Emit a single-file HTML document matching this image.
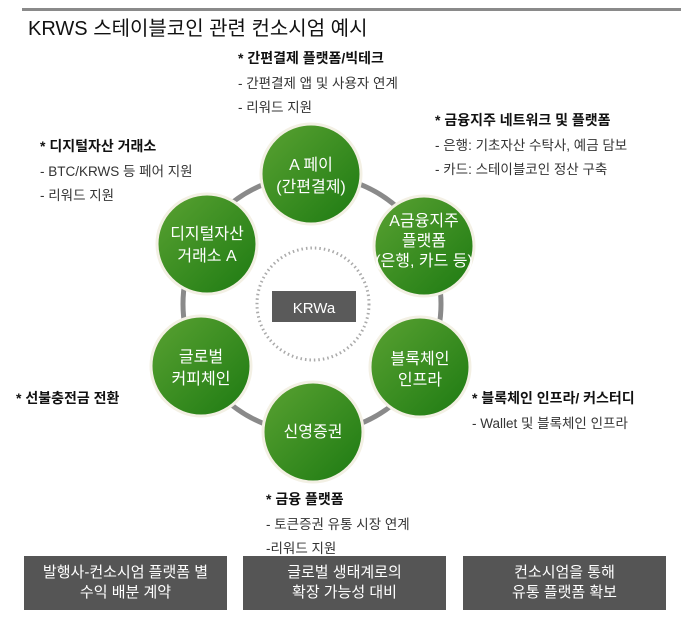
<!DOCTYPE html>
<html><head><meta charset="utf-8"><style>
body{margin:0;width:681px;height:620px;background:#fff;overflow:hidden;position:relative;font-family:"Liberation Sans","Noto Sans CJK KR",sans-serif;}
.t{position:absolute;white-space:nowrap;color:#222;}
.h{font-weight:bold;font-size:14px;color:#111;}
.s{font-size:13.5px;color:#333;}
.box{position:absolute;top:556px;height:54px;width:203px;background:#555;color:#fff;font-size:15px;text-align:center;line-height:20px;display:flex;align-items:center;justify-content:center;}
</style></head><body>
<div style="position:absolute;left:22px;top:8px;width:659px;height:3px;background:#8a8a8a"></div>
<div class="t" style="left:28px;top:12px;font-size:20px;color:#111;">KRWS 스테이블코인 관련 컨소시엄 예시</div>
<svg width="681" height="620" style="position:absolute;left:0;top:0">
<defs><linearGradient id="g" x1="0" y1="0" x2="1" y2="1"><stop offset="0" stop-color="#5aa232"/><stop offset="1" stop-color="#1d7a12"/></linearGradient></defs>
<circle cx="312" cy="304" r="129" fill="none" stroke="#8a8a8a" stroke-width="5"/>
<circle cx="313" cy="304" r="56" fill="none" stroke="#aaa" stroke-width="3" stroke-dasharray="1.5 3"/>
<rect x="272" y="291" width="84" height="31" fill="#5a5a5a"/>
<text x="314" y="313" font-size="15" fill="#fff" text-anchor="middle" font-family="Liberation Sans">KRWa</text>
<g stroke="#f3f0e4" stroke-width="3" fill="url(#g)">
<circle cx="311" cy="174" r="50"/><circle cx="424" cy="246" r="50"/><circle cx="420" cy="367" r="50"/>
<circle cx="313" cy="432" r="50"/><circle cx="201" cy="366" r="50"/><circle cx="207" cy="244" r="50"/>
</g>
<g fill="#fff" font-size="16" text-anchor="middle" font-family="Liberation Sans, Noto Sans CJK KR, sans-serif">
<text x="311" y="170">A 페이</text><text x="311" y="192">(간편결제)</text>
<text x="424" y="226">A금융지주</text><text x="424" y="246">플랫폼</text><text x="424" y="266">(은행, 카드 등)</text>
<text x="420" y="364">블록체인</text><text x="420" y="385">인프라</text>
<text x="313" y="437">신영증권</text>
<text x="201" y="362">글로벌</text><text x="201" y="384">커피체인</text>
<text x="207" y="239">디지털자산</text><text x="207" y="261">거래소 A</text>
</g>
</svg>
<div class="t h" style="left:238px;top:48px">* 간편결제 플랫폼/빅테크</div>
<div class="t s" style="left:238px;top:72px">- 간편결제 앱 및 사용자 연계</div>
<div class="t s" style="left:238px;top:96px">- 리워드 지원</div>
<div class="t h" style="left:435px;top:110px">* 금융지주 네트워크 및 플랫폼</div>
<div class="t s" style="left:435px;top:134px">- 은행: 기초자산 수탁사, 예금 담보</div>
<div class="t s" style="left:435px;top:158px">- 카드: 스테이블코인 정산 구축</div>
<div class="t h" style="left:40px;top:136px">* 디지털자산 거래소</div>
<div class="t s" style="left:40px;top:160px">- BTC/KRWS 등 페어 지원</div>
<div class="t s" style="left:40px;top:184px">- 리워드 지원</div>
<div class="t h" style="left:16px;top:388px">* 선불충전금 전환</div>
<div class="t h" style="left:472px;top:388px">* 블록체인 인프라/ 커스터디</div>
<div class="t s" style="left:472px;top:412px">- Wallet 및 블록체인 인프라</div>
<div class="t h" style="left:266px;top:489px">* 금융 플랫폼</div>
<div class="t s" style="left:266px;top:513px">- 토큰증권 유통 시장 연계</div>
<div class="t s" style="left:266px;top:537px">-리워드 지원</div>
<div class="box" style="left:24px">발행사-컨소시엄 플랫폼 별<br>수익 배분 계약</div>
<div class="box" style="left:243px">글로벌 생태계로의<br>확장 가능성 대비</div>
<div class="box" style="left:463px">컨소시엄을 통해<br>유통 플랫폼 확보</div>
</body></html>
